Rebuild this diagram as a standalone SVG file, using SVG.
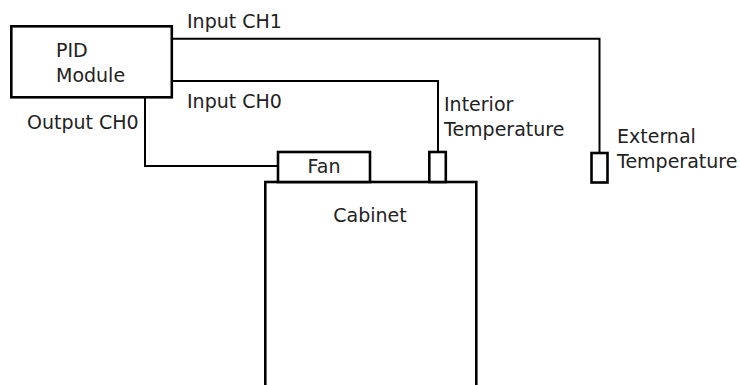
<svg xmlns="http://www.w3.org/2000/svg" width="740" height="385" viewBox="0 0 740 385">
<style>
.box{fill:#fff;stroke:#000;stroke-width:2.6}
.wire{fill:none;stroke:#000;stroke-width:2}
text{font-family:"DejaVu Sans",Verdana,sans-serif;font-size:19px;fill:#222}
</style>
<rect width="740" height="385" fill="#fff"/>
<g id="connectors">
<path class="wire" d="M172,38.7 H599.5 V153"/>
<path class="wire" d="M172,81 H438 V152"/>
<path class="wire" d="M145,97 V166 H278"/>
</g>
<g id="cabinet">
<rect class="box" x="265.3" y="182" width="211" height="230"/>
<text x="370" y="222" text-anchor="middle">Cabinet</text>
</g>
<g id="pid">
<rect class="box" x="11.3" y="26.3" width="160.5" height="71"/>
<text x="56" y="57">PID</text>
<text x="56" y="82">Module</text>
</g>
<g id="fan">
<rect class="box" x="278" y="152" width="92" height="30"/>
<text x="324" y="173" text-anchor="middle">Fan</text>
</g>
<g id="interior-sensor">
<rect class="box" x="429.3" y="152" width="16.5" height="30"/>
<text x="444" y="111">Interior</text>
<text x="444" y="136">Temperature</text>
</g>
<g id="external-sensor">
<rect class="box" x="591.5" y="153" width="16" height="29.5"/>
<text x="617" y="143">External</text>
<text x="617" y="168">Temperature</text>
</g>
<g id="labels">
<text x="187" y="28">Input CH1</text>
<text x="187" y="108">Input CH0</text>
<text x="27" y="129">Output CH0</text>
</g>
</svg>
